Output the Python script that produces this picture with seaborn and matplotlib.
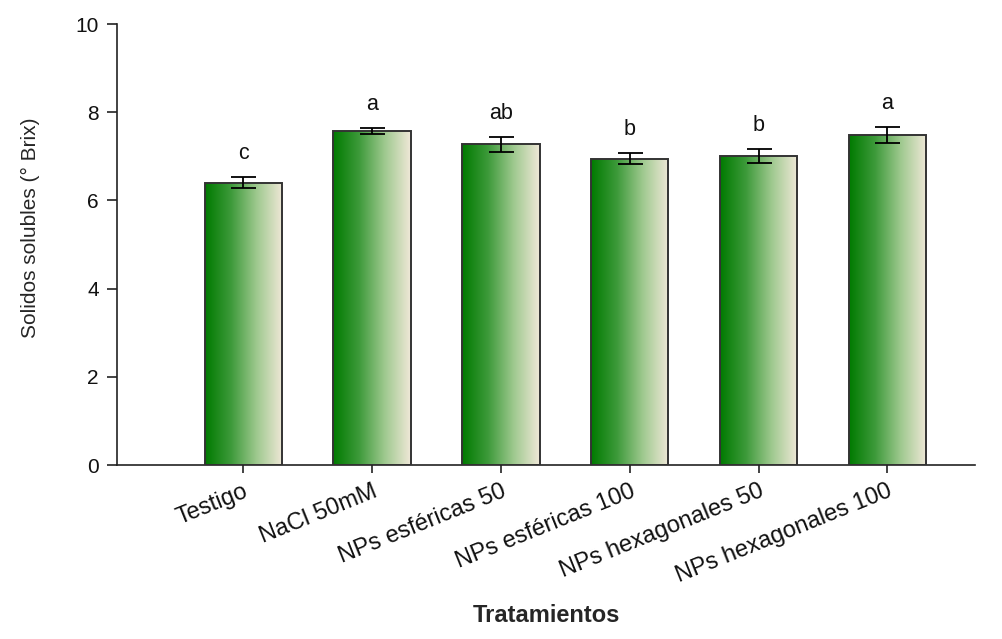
import numpy as np
import pandas as pd
import matplotlib
matplotlib.use("Agg")
import matplotlib.pyplot as plt
from matplotlib.colors import LinearSegmentedColormap
import seaborn as sns

# Treatments, means, standard errors and significance letters
tratamientos = ["Testigo", "NaCl 50mM", "NPs esféricas 50", "NPs esféricas 100",
                "NPs hexagonales 50", "NPs hexagonales 100"]
brix = [6.40, 7.57, 7.27, 6.94, 7.01, 7.49]
error = [0.12, 0.07, 0.17, 0.125, 0.16, 0.18]
letras = ["c", "a", "ab", "b", "b", "a"]
yticks = [0, 2, 4, 6, 8, 10]

sns.set_theme(style="ticks")
plt.rcParams["font.family"] = ["Liberation Sans", "DejaVu Sans"]

df = pd.DataFrame({"Tratamiento": tratamientos, "Brix": brix})

fig = plt.figure(figsize=(10.03, 6.39), dpi=100)
ax = fig.add_axes([0.1167, 0.2723, 0.8553, 0.6901])

sns.barplot(data=df, x="Tratamiento", y="Brix", ax=ax, width=0.6,
            color="white", edgecolor="#333333", linewidth=1.4, errorbar=None,
            zorder=2)

# Horizontal green-to-cream gradient inside each bar
cmap = LinearSegmentedColormap.from_list(
    "verde", ["#007a00", "#3d9a3a", "#9fc98f", "#f0e8d8"])
grad = np.linspace(0, 1, 256).reshape(1, -1)
for patch in ax.patches:
    x0 = patch.get_x()
    w = patch.get_width()
    h = patch.get_height()
    im = ax.imshow(grad, cmap=cmap, aspect="auto",
                   extent=[x0, x0 + w, 0, h], zorder=2.5,
                   interpolation="bicubic")
    im.set_clip_path(patch)
    patch.set_facecolor("none")
    patch.set_zorder(3)

xpos = np.arange(len(tratamientos))
ax.errorbar(xpos, brix, yerr=error, fmt="none", ecolor="black",
            elinewidth=1.3, capsize=9, capthick=1.3, zorder=4)

for xi, v, e, t in zip(xpos, brix, error, letras):
    ax.text(xi, v + e + 0.3, t, ha="center", va="bottom",
            fontsize=15.5, color="#111111")

ax.set_xlim(-0.98, 5.68)
ax.set_ylim(0, 10)
ax.set_yticks(yticks)
ax.set_yticklabels([str(t) for t in yticks], fontsize=15)
ax.set_xticks(xpos)
ax.set_xticklabels(tratamientos, fontsize=17, rotation=22, ha="right",
                   rotation_mode="anchor")
ax.tick_params(axis="both", direction="out", width=1.2,
               color="#222222", labelcolor="#111111")
ax.tick_params(axis="x", length=6, pad=5)
ax.tick_params(axis="y", length=7, pad=6)

for side in ["top", "right"]:
    ax.spines[side].set_visible(False)
for side in ["left", "bottom"]:
    ax.spines[side].set_linewidth(1.2)
    ax.spines[side].set_color("#222222")

ax.set_ylabel("Solidos solubles (° Brix)", fontsize=15)
ax.yaxis.set_label_coords(-0.09, 0.537)
ax.set_xlabel("Tratamientos", fontsize=17, fontweight="bold")
ax.xaxis.set_label_coords(0.5, -0.315)

fig.savefig("out.png", dpi=100, facecolor="white")
